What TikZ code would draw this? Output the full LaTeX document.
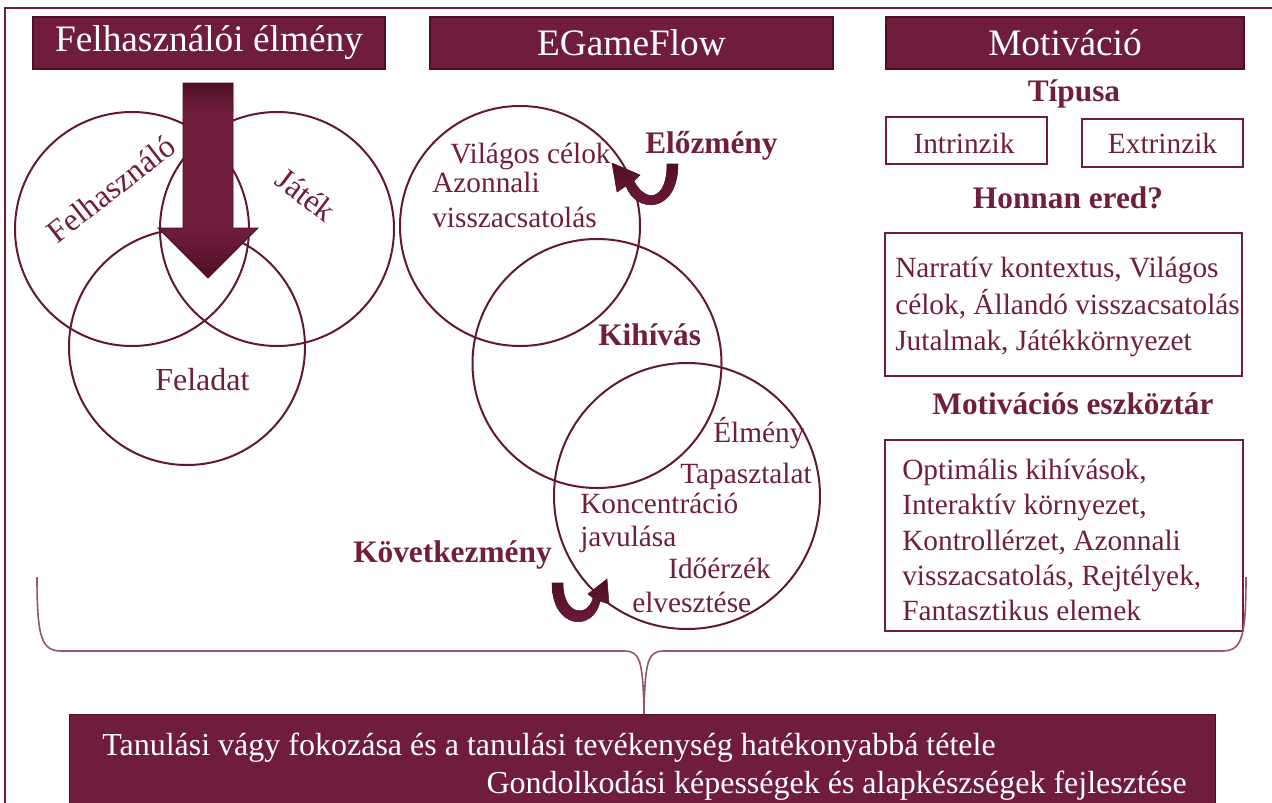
\documentclass[tikz,border=0pt]{standalone}
\usepackage{fontspec}
\setmainfont{Liberation Serif}
\usetikzlibrary{arrows.meta}
\definecolor{mar}{RGB}{112,29,61}
\definecolor{mardark}{RGB}{80,14,38}
\definecolor{martext}{RGB}{112,30,62}
\definecolor{marline}{RGB}{98,24,50}
\definecolor{marbrace}{RGB}{150,85,115}
\newcommand\TitleFnt{\fontsize{28}{33}\selectfont}
\newcommand\BodyFnt{\fontsize{22}{27.5}\selectfont}
\newcommand\VennFnt{\fontsize{24}{28}\selectfont}
\newcommand\BoxFntB{\fontsize{22}{26.6}\selectfont}
\newcommand\HeadFnt{\fontsize{23.5}{28}\selectfont\bfseries}
\newcommand\BotFnt{\fontsize{24}{28}\selectfont}
\tikzset{
  titlebox/.style={fill=mar, draw=mardark, line width=0.8pt, text=white, font=\TitleFnt, inner sep=0pt},
  outbox/.style={draw=mar, line width=1.5pt, inner sep=0pt},
  ring/.style={draw=marline, line width=1.5pt},
  lbl/.style={text=martext, font=\BodyFnt, inner sep=0pt},
  vlbl/.style={text=martext, font=\VennFnt, inner sep=0pt},
  hdr/.style={text=martext, font=\HeadFnt, inner sep=0pt},
  curvfill/.style={top color=mardark, bottom color=mar, draw=mardark, line width=0.4pt},
}
\begin{document}
\begin{tikzpicture}[x=0.75pt,y=-0.75pt]
\useasboundingbox (0,0) rectangle (1272,803);
% outer frame
\coordinate (fbl) at (5,803);
\coordinate (ftl) at (5,8);
\coordinate (ftr) at (1272,8);
\draw[mar, line width=1.5pt] (fbl) -- (ftl) -- (ftr);

% title boxes
\node[titlebox, minimum width=264pt, minimum height=39pt] (t1) at (209,43) {Felhasználói élmény};
\node[titlebox, minimum width=302.25pt, minimum height=39pt] (t2) at (631.5,43) {EGameFlow};
\node[titlebox, minimum width=268.5pt, minimum height=39pt] (t3) at (1065,43) {Motiváció};

% left Venn
\node[ring, circle, minimum size=175.5pt, inner sep=0pt] (cuser) at (132,229) {};
\node[ring, circle, minimum size=175.5pt, inner sep=0pt] (cgame) at (277,229) {};
\node[ring, circle, minimum size=177pt, inner sep=0pt] (ctask) at (187,347) {};
\node[vlbl, rotate=38] (luser) at (111,189) {Felhasználó};
\node[vlbl, rotate=-37] (lgame) at (306,195) {Játék};
\node[vlbl, anchor=base west] (ltask) at (155,390) {Feladat};

% big arrow
\fill[mar] (183,83) -- (233,83) -- (233,228) -- (258,228) -- (208,278) -- (158,228) -- (183,228) -- cycle;
\shade[top color=mardark, bottom color=mar] (183,83) rectangle (233,112);
\shade[top color=mar, bottom color=mardark] (158,228) -- (258,228) -- (208,278) -- cycle;
\draw[mardark, line width=0.6pt] (183,83) -- (233,83) -- (233,228) -- (258,228) -- (208,278) -- (158,228) -- (183,228) -- cycle;

% EGameFlow circles
\node[ring, circle, minimum size=180pt, inner sep=0pt] (c1) at (520,226) {};
\node[ring, circle, minimum size=186.75pt, inner sep=0pt] (c2) at (597,363.5) {};
\node[ring, circle, minimum size=199.5pt, inner sep=0pt] (c3) at (687,496) {};

\node[lbl, anchor=base west] (v1) at (450,163) {Világos célok};
\node[lbl, anchor=base west] (v2) at (432,192) {Azonnali};
\node[lbl, anchor=base west] (v3) at (432,227) {visszacsatolás};
\node[hdr, anchor=base west] (elo) at (645,153) {Előzmény};
\node[hdr, anchor=base west] (kih) at (598,345) {Kihívás};
\node[lbl, anchor=base west] (e1) at (713,442) {Élmény};
\node[lbl, anchor=base west] (e2) at (680,483) {Tapasztalat};
\node[lbl, anchor=base west] (e3) at (580,513) {Koncentráció};
\node[lbl, anchor=base west] (e4) at (580,546) {javulása};
\node[lbl, anchor=base west] (e5) at (668,578) {Időérzék};
\node[lbl, anchor=base west] (e6) at (632,612) {elvesztése};
\node[hdr, anchor=base west] (kov) at (353,562) {Következmény};

% curved arrows (tapered)
\shade[curvfill] (678,164) .. controls (678,214) and (636,214) .. (626,186)
  -- (617,192) -- (612,163) -- (640,175) -- (634,181)
  .. controls (645,203) and (667,202) .. (667,164) -- cycle;
\shade[curvfill] (552,583) .. controls (552,630) and (594,632) .. (600,601)
  -- (609,604) -- (607,579) -- (588,594) -- (593,598)
  .. controls (588,618) and (563,616) .. (563,583) -- cycle;

% right column
\node[hdr] (tip) at (1074,94) {Típusa};
\node[outbox, minimum width=120.75pt, minimum height=35.25pt] (bin) at (966.5,140.5) {};
\node[lbl] (tin) at (964,143) {Intrinzik};
\node[outbox, minimum width=120.75pt, minimum height=36pt] (bex) at (1162.5,143) {};
\node[lbl] (tex) at (bex.center) {Extrinzik};
\node[hdr] (hon) at (1068,198) {Honnan ered?};
\node[outbox, minimum width=267.75pt, minimum height=107.25pt] (bho) at (1063.5,304.5) {};
\node[lbl, anchor=west, align=left] (tho) at (895,307)
  {Narratív kontextus, Világos\\célok, Állandó visszacsatolás\\Jutalmak, Játékkörnyezet};
\node[hdr] (mot) at (1073,404) {Motivációs eszköztár};
\node[outbox, minimum width=268.5pt, minimum height=143.25pt] (bmo) at (1064,535.5) {};
\node[lbl, anchor=west, align=left, font=\BoxFntB] (tmo) at (902,540)
  {Optimális kihívások,\\Interaktív környezet,\\Kontrollérzet, Azonnali\\visszacsatolás, Rejtélyek,\\Fantasztikus elemek};

% bottom box
\node[fill=mar, draw=mardark, line width=0.8pt, minimum width=859.5pt, minimum height=70pt, inner sep=0pt, anchor=north west] (bot) at (69,714) {};
\node[text=white, font=\BotFnt, anchor=base west, inner sep=0pt] (bt1) at (102,755)
  {Tanulási vágy fokozása és a tanulási tevékenység hatékonyabbá tétele};
\node[text=white, font=\BotFnt, anchor=base east, inner sep=0pt] (bt2) at (1187,793)
  {Gondolkodási képességek és alapkészségek fejlesztése};

% brace
\coordinate (brl) at (37,577);
\coordinate (brr) at (1246,577);
\coordinate (brtip) at (644,714);
\draw[marbrace, line width=1.2pt] (brl) .. controls (37,640) and (42,651) .. (62,651)
  -- (624,651) .. controls (640,651) and (643,660) .. (brtip);
\draw[marbrace, line width=1.2pt] (brr) .. controls (1246,640) and (1241,651) .. (1222,651)
  -- (664,651) .. controls (648,651) and (645,660) .. (brtip);
\end{tikzpicture}
\end{document}
